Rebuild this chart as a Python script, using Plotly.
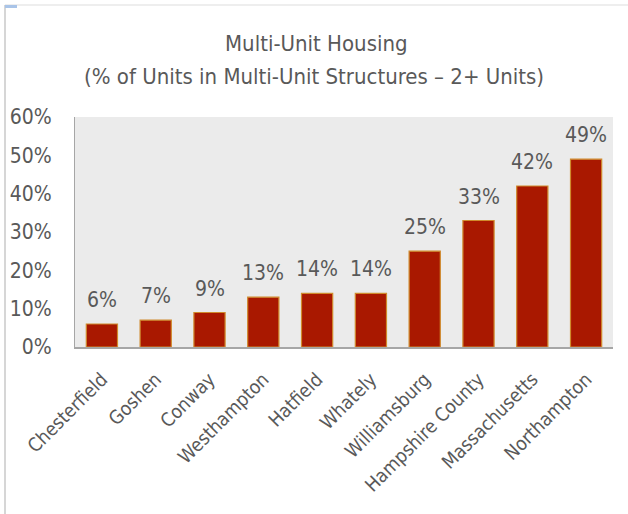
import plotly.graph_objects as go

categories = ["Chesterfield", "Goshen", "Conway", "Westhampton", "Hatfield", "Whately",
              "Williamsburg", "Hampshire County", "Massachusetts", "Northampton"]
values = [6, 7, 9, 13, 14, 14, 25, 33, 42, 49]
labels = [f"{v}%" for v in values]
y_ticks = [0, 10, 20, 30, 40, 50, 60]
y_tick_text = [f"{t}%" for t in y_ticks]

FONT = "DejaVu Sans Condensed"
GRAY = "#595959"

W, H = 628, 514
L, R, T, B = 75, 15, 117, 167

def px(x):
    return (x - L) / (W - L - R)

def py(y):
    return (H - B - y) / (H - T - B)

fig = go.Figure(go.Bar(
    x=categories, y=values,
    marker=dict(color="#A91800", line=dict(color="#D08A2C", width=1.2)),
    hoverinfo="x+y",
))

value_annotations = [
    dict(x=c, y=v, text=t, xref="x", yref="y", showarrow=False,
         xanchor="center", yanchor="bottom", yshift=10,
         font=dict(family=FONT, size=21, color=GRAY))
    for c, v, t in zip(categories, values, labels)
]

fig.update_layout(
    width=W, height=H,
    margin=dict(l=L, r=R, t=T, b=B, autoexpand=False),
    paper_bgcolor="white", plot_bgcolor="#EBEBEB",
    bargap=0.42, showlegend=False,
    font=dict(family=FONT, color=GRAY),
    xaxis=dict(tickangle=-45, tickfont=dict(family=FONT, size=19, color=GRAY),
               showline=True, linecolor="#A6A6A6", linewidth=1.5, ticks="",
               showgrid=False, automargin=False, ticklabelstandoff=12),
    yaxis=dict(range=[0, 60], tickvals=y_ticks, ticktext=y_tick_text,
               tickfont=dict(family=FONT, size=21, color=GRAY),
               showline=True, linecolor="#A6A6A6", linewidth=1, ticks="",
               showgrid=False, zeroline=False, ticklabelstandoff=18, automargin=False),
    annotations=[
        dict(text="Multi-Unit Housing", xref="paper", yref="paper",
             x=px(316), y=py(43), xanchor="center", yanchor="middle",
             showarrow=False, font=dict(family=FONT, size=22, color=GRAY)),
        dict(text="(% of Units in Multi-Unit Structures – 2+ Units)", xref="paper", yref="paper",
             x=px(314), y=py(77), xanchor="center", yanchor="middle",
             showarrow=False, font=dict(family=FONT, size=22, color=GRAY)),
    ] + value_annotations,
    shapes=[
        dict(type="line", xref="paper", yref="paper", x0=px(5), x1=px(5), y0=py(5), y1=py(514),
             line=dict(color="#C8C8C8", width=1.5)),
        dict(type="line", xref="paper", yref="paper", x0=px(5), x1=px(628), y0=py(5), y1=py(5),
             line=dict(color="#DDDDDD", width=1)),
        dict(type="rect", xref="paper", yref="paper", x0=px(5), x1=px(17), y0=py(5), y1=py(8),
             line=dict(width=0), fillcolor="#A9C4E8"),
    ],
)

fig.write_html("out.html", config={"displayModeBar": False},
               post_script="document.body.style.margin='0';")
